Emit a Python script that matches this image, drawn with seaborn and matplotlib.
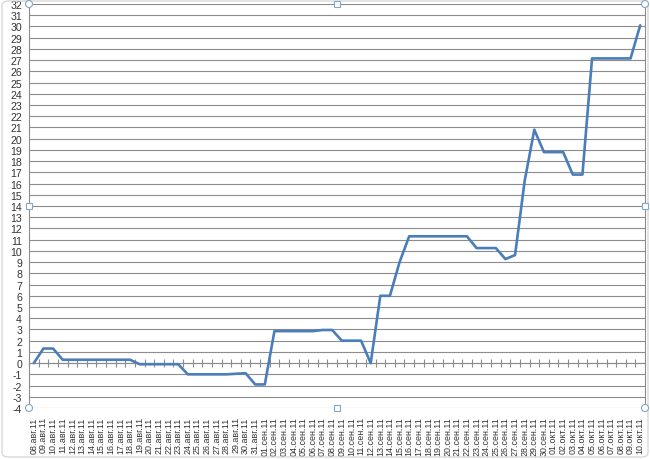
import matplotlib
matplotlib.use("Agg")
import matplotlib.pyplot as plt
from matplotlib.patches import FancyBboxPatch, Circle, Rectangle
import seaborn as sns
import numpy as np
import pandas as pd

# ---- data -------------------------------------------------------------
aug_days = list(range(8, 32))
sep_days = list(range(1, 31))
oct_days = list(range(1, 11))
dates = ([f"{d:02d}.авг.11" for d in aug_days]
         + [f"{d:02d}.сен.11" for d in sep_days]
         + [f"{d:02d}.окт.11" for d in oct_days])

values = [0.0, 1.3, 1.3, 0.3, 0.3, 0.3, 0.3, 0.3, 0.3, 0.3,
          0.3, -0.1, -0.1, -0.1, -0.1, -0.1, -1.0, -1.0, -1.0, -1.0,
          -1.0, -0.95, -0.9, -1.9, -1.9, 2.85, 2.85, 2.85, 2.85, 2.85,
          2.95, 2.95, 2.0, 2.0, 2.0, 0.0, 6.0, 6.0, 9.0, 11.3,
          11.3, 11.3, 11.3, 11.3, 11.3, 11.3, 10.25, 10.25, 10.25, 9.27,
          9.63, 16.25, 20.8, 18.8, 18.8, 18.8, 16.8, 16.8, 27.15, 27.15,
          27.15, 27.15, 27.15, 30.1]

y_ticks = list(range(-4, 33))

df = pd.DataFrame({"pos": np.arange(len(dates)), "value": values, "date": dates})

# ---- figure -----------------------------------------------------------
sns.set_style("white")
plt.rcParams["font.family"] = ["Liberation Sans", "DejaVu Sans"]

fig = plt.figure(figsize=(6.5, 4.6), dpi=100)
ax = fig.add_axes([29 / 650, 1 - 409 / 460, (645 - 29) / 650, (409 - 5) / 460])

grid_c = "#8c8c8c"
for yv in y_ticks:
    ax.axhline(yv, color=grid_c, lw=0.8, zorder=0)

sns.lineplot(data=df, x="pos", y="value", ax=ax, color="#4a7ebb",
             linewidth=1.9, zorder=3)

ax.set_xlim(-0.5, len(dates) - 0.5)
ax.set_ylim(-4, 32)
ax.set_yticks(y_ticks)
ax.set_yticklabels([str(v) for v in y_ticks])
ax.set_xticks(df["pos"])
ax.set_xticklabels(dates, rotation=90)
ax.set_xlabel("")
ax.set_ylabel("")

ax.tick_params(axis="y", length=3, width=0.8, color=grid_c, pad=2,
               labelsize=7.6, labelcolor="#333333")
ax.tick_params(axis="x", length=0, pad=6, labelsize=6.4, labelcolor="#333333")

for s in ["left", "right"]:
    ax.spines[s].set_color(grid_c)
    ax.spines[s].set_linewidth(0.8)
for s in ["top", "bottom"]:
    ax.spines[s].set_visible(False)

# horizontal category axis crossing at zero with tick marks between categories
sec = ax.secondary_xaxis(4 / 36)
sec.set_xticks(np.arange(-0.5, len(dates), 1.0))
sec.set_xticklabels([])
sec.tick_params(axis="x", direction="inout", length=6, width=0.8, color=grid_c)
sec.spines["bottom"].set_color(grid_c)
sec.spines["bottom"].set_linewidth(0.8)

# chart frame and selection handles (decoration)
fig.patches.append(FancyBboxPatch((2 / 650, 2 / 460), 646 / 650, 456 / 460,
                                  boxstyle="round,pad=0,rounding_size=0.01",
                                  transform=fig.transFigure, fill=False,
                                  ec="#d0d0d0", lw=0.8))
hx = [29, 337, 645]
hy = [5, 207, 409]
for xi, px in enumerate(hx):
    for yi, py in enumerate(hy):
        if xi == 1 and yi == 1:
            continue
        if xi != 1 and yi != 1:
            fig.patches.append(Circle((px, 460 - py), 3.5, transform=None,
                                      fc="white", ec="#7fa7c9", lw=0.8, zorder=10))
        else:
            fig.patches.append(Rectangle((px - 3, 460 - py - 3), 6, 6, transform=None,
                                         fc="white", ec="#7fa7c9", lw=0.8, zorder=10))

fig.savefig("out.png", dpi=100)
